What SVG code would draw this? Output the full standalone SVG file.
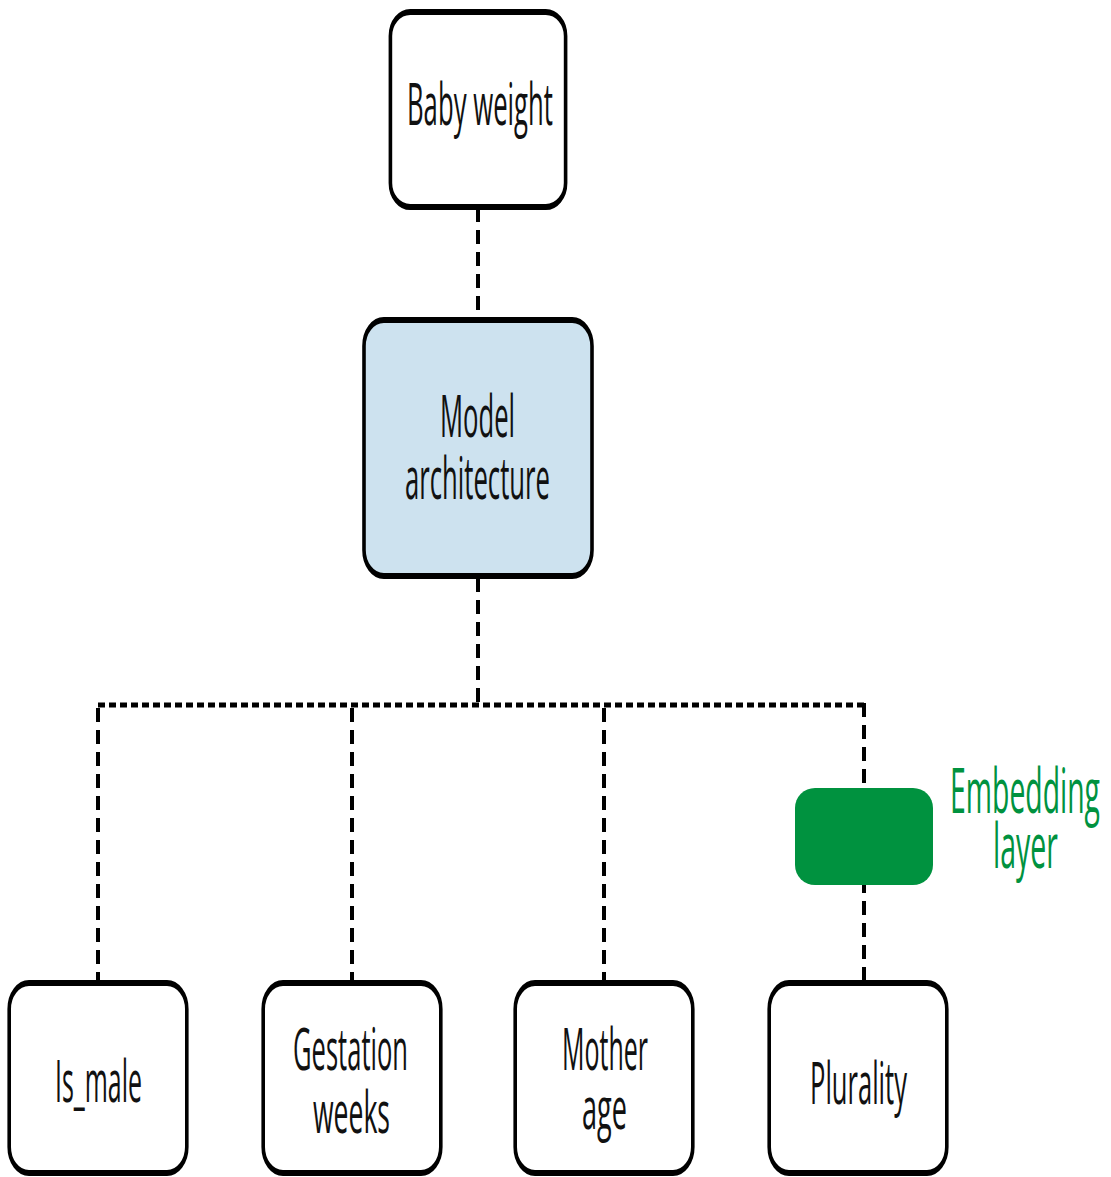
<svg xmlns="http://www.w3.org/2000/svg" width="1111" height="1177" viewBox="0 0 1111 1177">
<style>
.box{fill:#fff;stroke:#000;stroke-width:6}
.blue{fill:#cde2ef}
.lbl{font-family:"Open Sans","Liberation Sans",sans-serif;font-size:59px;fill:#111}
.grn{font-family:"Open Sans","Liberation Sans",sans-serif;font-size:63px;fill:#00923f}
.dash{stroke:#000;stroke-width:4;stroke-dasharray:14 8;fill:none}
.dot{stroke:#000;stroke-width:5;stroke-dasharray:7 4;fill:none}
</style>
<g id="connectors">
<line class="dash" x1="478" y1="208" x2="478" y2="318"/>
<line class="dash" x1="478" y1="578" x2="478" y2="703"/>
<line class="dot" x1="98" y1="705" x2="866" y2="705"/>
<line class="dash" x1="98" y1="708" x2="98" y2="980"/>
<line class="dash" x1="352" y1="708" x2="352" y2="980"/>
<line class="dash" x1="604" y1="708" x2="604" y2="980"/>
<line class="dash" x1="864" y1="703" x2="864" y2="980"/>
</g>
<g id="baby-weight">
<g transform="translate(478 0) scale(0.6 1)"><rect class="box" x="-146" y="12" width="292" height="195" rx="33" ry="24"/></g>
<text class="lbl" x="407" y="125" textLength="146" lengthAdjust="spacingAndGlyphs">Baby weight</text>
</g>
<g id="model-architecture">
<g transform="translate(478 0) scale(0.6 1)"><rect class="box blue" x="-190" y="320" width="380" height="256" rx="33" ry="26"/></g>
<text class="lbl" x="440" y="437" textLength="75" lengthAdjust="spacingAndGlyphs">Model</text>
<text class="lbl" x="405" y="499" textLength="145" lengthAdjust="spacingAndGlyphs">architecture</text>
</g>
<g id="embedding-layer">
<rect x="795" y="788" width="138" height="97" rx="20" ry="20" fill="#00923f"/>
<text class="grn" x="950" y="813" textLength="150" lengthAdjust="spacingAndGlyphs">Embedding</text>
<text class="grn" x="993" y="868" textLength="65" lengthAdjust="spacingAndGlyphs">layer</text>
</g>
<g id="is-male">
<g transform="translate(98 0) scale(0.6 1)"><rect class="box" x="-148" y="983" width="296" height="190" rx="33" ry="26"/></g>
<text class="lbl" x="55" y="1102" textLength="87" lengthAdjust="spacingAndGlyphs">Is_male</text>
</g>
<g id="gestation-weeks">
<g transform="translate(352 0) scale(0.6 1)"><rect class="box" x="-148" y="983" width="296" height="190" rx="33" ry="26"/></g>
<text class="lbl" x="293" y="1070" textLength="115" lengthAdjust="spacingAndGlyphs">Gestation</text>
<text class="lbl" x="313" y="1133" textLength="77" lengthAdjust="spacingAndGlyphs">weeks</text>
</g>
<g id="mother-age">
<g transform="translate(604 0) scale(0.6 1)"><rect class="box" x="-148" y="983" width="296" height="190" rx="33" ry="26"/></g>
<text class="lbl" x="562" y="1070" textLength="86" lengthAdjust="spacingAndGlyphs">Mother</text>
<text class="lbl" x="582" y="1129" textLength="45" lengthAdjust="spacingAndGlyphs">age</text>
</g>
<g id="plurality">
<g transform="translate(858 0) scale(0.6 1)"><rect class="box" x="-148" y="983" width="296" height="190" rx="33" ry="26"/></g>
<text class="lbl" x="810" y="1104" textLength="97" lengthAdjust="spacingAndGlyphs">Plurality</text>
</g>
</svg>
